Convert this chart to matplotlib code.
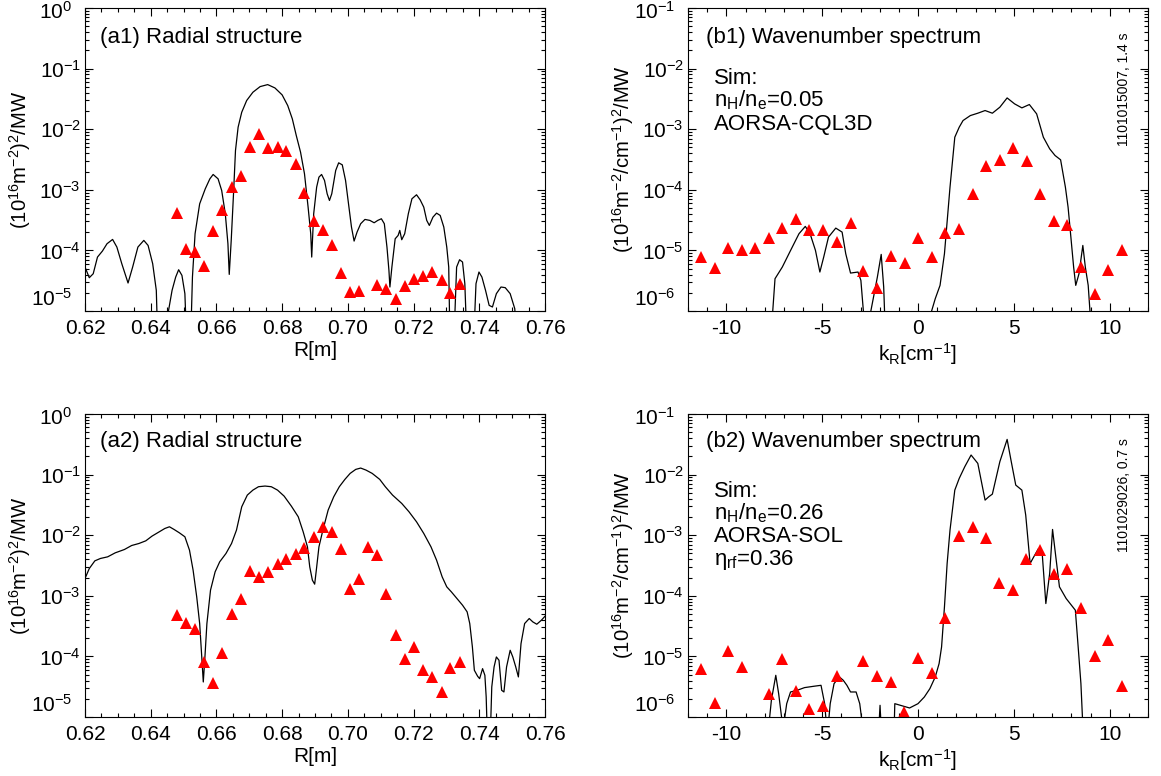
import numpy as np
import matplotlib
matplotlib.use("Agg")
import matplotlib.pyplot as plt
from matplotlib.ticker import MultipleLocator, FormatStrFormatter, LogLocator, FuncFormatter
from matplotlib.transforms import ScaledTranslation

plt.rcParams['font.family'] = ['Liberation Sans', 'DejaVu Sans']
plt.rcParams['mathtext.fontset'] = 'custom'
plt.rcParams['mathtext.rm'] = 'Liberation Sans'
plt.rcParams['mathtext.it'] = 'Liberation Sans:italic'
plt.rcParams['mathtext.default'] = 'regular'
plt.rcParams['axes.unicode_minus'] = False

# ---------------- measured points (red triangles) ----------------
a1_tri_R = [0.6480, 0.6508, 0.6535, 0.6563, 0.6590, 0.6618, 0.6646, 0.6674, 0.6702, 0.6730,
            0.6758, 0.6786, 0.6813, 0.6841, 0.6868, 0.6896, 0.6924, 0.6951, 0.6979, 0.7007,
            0.7035, 0.7088, 0.7116, 0.7145, 0.7173, 0.7201, 0.7228, 0.7257, 0.7285, 0.7311, 0.7341]
a1_tri_val = [4.1e-4, 1.05e-4, 9.4e-5, 5.5e-5, 2.06e-4, 4.7e-4, 1.1e-3, 1.72e-3, 5.05e-3, 8.4e-3,
              4.86e-3, 5.05e-3, 4.34e-3, 2.7e-3, 8.8e-4, 3.05e-4, 2.14e-4, 1.24e-4, 4.2e-5, 2.06e-5,
              2.14e-5, 2.65e-5, 2.33e-5, 1.56e-5, 2.58e-5, 3.33e-5, 3.78e-5, 4.4e-5, 3.3e-5, 2.0e-5, 2.75e-5]

a2_tri_R = [0.6480, 0.6508, 0.6535, 0.6563, 0.6590, 0.6618, 0.6646, 0.6674, 0.6702, 0.6730,
            0.6758, 0.6786, 0.6813, 0.6841, 0.6868, 0.6896, 0.6924, 0.6951, 0.6979, 0.7007,
            0.7035, 0.7061, 0.7089, 0.7117, 0.7145, 0.7173, 0.7201, 0.7229, 0.7257, 0.7285,
            0.7311, 0.7341]
a2_tri_val = [4.8e-4, 3.5e-4, 2.8e-4, 8.1e-5, 3.6e-5, 1.14e-4, 5.1e-4, 8.9e-4, 2.58e-3, 2.06e-3,
              2.45e-3, 3.41e-3, 4.07e-3, 4.86e-3, 6.04e-3, 9.4e-3, 1.38e-2, 1.14e-2, 5.9e-3, 1.29e-3,
              1.86e-3, 6.4e-3, 4.7e-3, 1.06e-3, 2.23e-4, 8.9e-5, 1.43e-4, 6.0e-5, 4.6e-5, 2.6e-5,
              6.5e-5, 8.1e-5]

b1_tri_k = [-11.31, -10.60, -9.90, -9.19, -8.50, -7.79, -7.08, -6.37, -5.69, -4.98, -4.25, -3.52,
            -2.85, -2.12, -1.40, -0.69, 0.0, 0.71, 1.42, 2.12, 2.85, 3.54, 4.27, 4.98, 5.67, 6.38,
            7.10, 7.79, 8.50, 9.21, 9.90, 10.62]
b1_tri_val = [7.8e-6, 5.1e-6, 1.09e-5, 1.0e-5, 1.09e-5, 1.62e-5, 2.37e-5, 3.24e-5, 2.14e-5, 2.14e-5,
              1.37e-5, 2.82e-5, 4.6e-6, 2.4e-6, 8.0e-6, 6.2e-6, 1.62e-5, 7.8e-6, 1.93e-5, 2.28e-5,
              8.4e-5, 2.45e-4, 3.16e-4, 4.86e-4, 2.97e-4, 8.4e-5, 3.1e-5, 2.58e-5, 5.3e-6, 1.93e-6,
              4.7e-6, 1.03e-5]

b2_tri_k = [-11.31, -10.60, -9.90, -9.19, -7.79, -7.08, -6.37, -5.67, -4.98, -4.25, -2.85, -2.12,
            -1.40, -0.73, 0.0, 0.71, 1.42, 2.12, 2.85, 3.54, 4.23, 4.94, 5.65, 6.38, 7.10, 7.79,
            8.50, 9.21, 9.90, 10.62]
b2_tri_val = [6.3e-6, 1.7e-6, 1.22e-5, 6.7e-6, 2.43e-6, 9.2e-6, 2.69e-6, 1.37e-6, 1.5e-6, 4.7e-6,
              8.4e-6, 4.8e-6, 3.8e-6, 1.21e-6, 9.4e-6, 5.4e-6, 4.3e-5, 9.7e-4, 1.38e-3, 9.1e-4,
              1.6e-4, 1.24e-4, 4.1e-4, 5.7e-4, 2.33e-4, 2.8e-4, 6.2e-5, 1.02e-5, 1.9e-5, 3.2e-6]

# ---------------- simulation curves (log10 of value) ----------------
a1_sim_R = [0.6200, 0.6213, 0.6225, 0.6238, 0.6253, 0.6267, 0.6284, 0.6297, 0.6312, 0.6331,
            0.6345, 0.6361, 0.6379, 0.6392, 0.6406, 0.6417, 0.6422, 0.6445, 0.6454, 0.6465,
            0.6476, 0.6485, 0.6495, 0.6504, 0.6510, 0.6521, 0.6527, 0.6535, 0.6549, 0.6566,
            0.6580, 0.6590, 0.6605, 0.6616, 0.6627, 0.6635, 0.6639, 0.6645, 0.6652, 0.6658,
            0.6666, 0.6677, 0.6692, 0.6711, 0.6733, 0.6756, 0.6778, 0.6800, 0.6817, 0.6831,
            0.6843, 0.6856, 0.6868, 0.6879, 0.6887, 0.6890, 0.6896, 0.6905, 0.6912, 0.6920,
            0.6929, 0.6937, 0.6944, 0.6951, 0.6963, 0.6972, 0.6983, 0.6993, 0.7002, 0.7011,
            0.7019, 0.7028, 0.7039, 0.7052, 0.7067, 0.7080, 0.7091, 0.7102, 0.7111, 0.7119,
            0.7125, 0.7128, 0.7134, 0.7144, 0.7153, 0.7158, 0.7164, 0.7173, 0.7184, 0.7195,
            0.7209, 0.7220, 0.7231, 0.7240, 0.7248, 0.7259, 0.7270, 0.7281, 0.7292, 0.7301,
            0.7307, 0.7311, 0.7322, 0.7331, 0.7340, 0.7349, 0.7356, 0.7363, 0.7382, 0.7390,
            0.7399, 0.7408, 0.7419, 0.7430, 0.7440, 0.7452, 0.7466, 0.7479, 0.7494, 0.7508,
            0.7516, 0.7600]
a1_sim_log = [-4.275, -4.451, -4.385, -4.110, -4.011, -3.890, -3.819, -3.945, -4.220, -4.538,
              -4.275, -3.945, -3.835, -3.918, -4.220, -4.659, -5.6, -5.6, -5.0, -4.659,
              -4.440, -4.319, -4.412, -4.714, -5.6, -5.6, -4.440, -3.725, -3.231, -2.984,
              -2.819, -2.747, -2.819, -3.011, -3.396, -3.890, -4.396, -3.835, -3.066, -2.352,
              -1.967, -1.720, -1.527, -1.390, -1.297, -1.264, -1.319, -1.434, -1.610, -1.830,
              -2.104, -2.379, -2.736, -3.286, -3.725, -4.110, -3.396, -2.956, -2.791, -2.747,
              -2.846, -3.066, -3.176, -3.066, -2.681, -2.555, -2.588, -2.846, -3.231, -3.615,
              -3.846, -3.698, -3.560, -3.489, -3.505, -3.544, -3.505, -3.478, -3.560, -3.945,
              -4.330, -4.604, -4.275, -3.808, -3.753, -3.670, -3.824, -3.725, -3.396, -3.148,
              -3.082, -3.165, -3.286, -3.505, -3.588, -3.451, -3.385, -3.423, -3.615, -3.945,
              -4.275, -5.6, -5.6, -4.275, -4.154, -4.192, -4.549, -5.6, -5.6, -4.549,
              -4.357, -4.440, -4.659, -4.907, -4.934, -4.714, -4.604, -4.615, -4.714, -4.962,
              -5.6, -5.6]

a2_sim_R = [0.6200, 0.6213, 0.6230, 0.6247, 0.6269, 0.6292, 0.6320, 0.6342, 0.6364, 0.6385,
            0.6404, 0.6426, 0.6443, 0.6457, 0.6471, 0.6487, 0.6504, 0.6518, 0.6529, 0.6540,
            0.6549, 0.6556, 0.6560, 0.6565, 0.6571, 0.6582, 0.6596, 0.6610, 0.6629, 0.6646,
            0.6661, 0.6677, 0.6694, 0.6711, 0.6728, 0.6748, 0.6767, 0.6786, 0.6806, 0.6828,
            0.6849, 0.6864, 0.6877, 0.6884, 0.6892, 0.6899, 0.6904, 0.6912, 0.6924, 0.6940,
            0.6957, 0.6974, 0.6991, 0.7007, 0.7024, 0.7039, 0.7055, 0.7074, 0.7097, 0.7114,
            0.7136, 0.7164, 0.7186, 0.7209, 0.7231, 0.7253, 0.7270, 0.7287, 0.7301, 0.7315,
            0.7332, 0.7349, 0.7363, 0.7371, 0.7379, 0.7385, 0.7395, 0.7401, 0.7410, 0.7417,
            0.7421, 0.7426, 0.7432, 0.7438, 0.7445, 0.7452, 0.7460, 0.7468, 0.7475, 0.7483,
            0.7494, 0.7502, 0.7511, 0.7519, 0.7527, 0.7538, 0.7552, 0.7563, 0.7575, 0.7589,
            0.7600]
a2_sim_log = [-2.715, -2.550, -2.423, -2.384, -2.357, -2.291, -2.236, -2.170, -2.137, -2.093,
              -2.015, -1.944, -1.889, -1.861, -1.905, -1.960, -2.026, -2.247, -2.577, -3.018,
              -3.458, -4.064, -4.422, -4.009, -3.458, -2.907, -2.605, -2.439, -2.302, -2.137,
              -1.916, -1.531, -1.338, -1.256, -1.200, -1.189, -1.200, -1.256, -1.355, -1.520,
              -1.696, -1.944, -2.192, -2.522, -2.742, -2.808, -2.577, -2.192, -1.916, -1.586,
              -1.366, -1.200, -1.079, -0.980, -0.914, -0.892, -0.925, -0.980, -1.079, -1.200,
              -1.338, -1.476, -1.613, -1.779, -1.971, -2.192, -2.412, -2.687, -2.852, -2.935,
              -3.045, -3.155, -3.265, -3.458, -3.844, -4.229, -4.328, -4.367, -4.202, -4.312,
              -4.670, -5.6, -5.6, -4.504, -4.174, -4.009, -4.064, -4.559, -4.587, -4.174,
              -3.899, -4.009, -4.174, -4.339, -3.789, -3.458, -3.375, -3.431, -3.469, -3.403,
              -3.337]

b1_sim_k = [-7.69, -7.46, -7.08, -6.69, -6.21, -5.88, -5.63, -5.35, -5.12, -4.92, -4.67, -4.29,
            -3.96, -3.77, -3.52, -3.13, -2.98, -2.85, -2.66, -2.46, -2.12, -1.92, -1.79, -1.69,
            0.50, 0.71, 0.90, 1.15, 1.38, 1.67, 1.92, 2.15, 2.35, 2.73, 3.12, 3.50, 3.88, 4.27,
            4.65, 5.04, 5.42, 5.81, 6.19, 6.54, 6.87, 7.15, 7.44, 7.69, 7.83, 7.96, 8.12, 8.23,
            8.40, 8.60, 8.73, 8.88, 9.08]
b1_sim_log = [-6.5, -5.467, -5.275, -5.027, -4.725, -4.604, -4.725, -5.0, -5.357, -5.110, -4.780,
              -4.632, -4.698, -5.055, -5.374, -5.357, -5.495, -6.0, -6.5, -6.0, -5.440, -5.066,
              -5.604, -6.5, -6.5, -6.0, -5.797, -5.577, -5.055, -3.956, -3.132, -2.967, -2.857,
              -2.775, -2.736, -2.692, -2.736, -2.637, -2.484, -2.582, -2.648, -2.593, -2.747,
              -3.132, -3.324, -3.434, -3.505, -3.956, -4.286, -4.725, -5.275, -5.577, -5.385,
              -4.918, -5.275, -5.577, -6.5]

b2_sim_k = [-7.90, -7.65, -7.42, -7.27, -7.04, -6.85, -6.65, -6.31, -5.92, -5.44, -5.06, -4.87,
            -4.73, -4.58, -4.38, -4.10, -3.90, -3.71, -3.52, -3.23, -3.04, -2.75, -2.10, -1.98,
            -1.88, -1.27, -1.21, -0.92, -0.44, 0.0, 0.33, 0.62, 0.90, 1.10, 1.23, 1.38, 1.52,
            1.67, 1.92, 2.15, 2.44, 2.77, 3.12, 3.50, 3.69, 3.88, 4.27, 4.65, 4.85, 5.10, 5.42,
            5.62, 5.85, 6.04, 6.29, 6.48, 6.67, 6.87, 7.02, 7.19, 7.38, 7.73, 8.21, 8.35, 8.50,
            8.65]
b2_sim_log = [-6.5, -5.725, -5.312, -5.615, -6.2, -5.780, -5.587, -5.560, -5.515, -5.493, -5.477,
              -5.780, -6.3, -5.780, -5.449, -5.339, -5.394, -5.477, -5.587, -5.587, -5.780, -6.5,
              -6.5, -5.807, -6.5, -6.5, -5.780, -5.807, -5.851, -5.780, -5.670, -5.532, -5.339,
              -5.119, -4.844, -4.183, -3.467, -2.916, -2.256, -2.063, -1.870, -1.677, -1.815,
              -2.421, -2.366, -2.322, -1.787, -1.419, -1.760, -2.173, -2.256, -2.668, -3.467,
              -3.357, -3.219, -3.302, -4.128, -3.632, -2.905, -3.357, -3.852, -4.045, -4.238,
              -4.816, -5.449, -6.5]

FS_TICK = 15
FS_TEXT = 16
FS_LAB = 14.6
ylab_a = r'(10$^{16}$m$^{-2}$)$^{2}$/MW'
ylab_b = r'(10$^{16}$m$^{-2}$/cm$^{-1}$)$^{2}$/MW'

fig = plt.figure(figsize=(11.61, 7.76), dpi=100)
W, H = 1161.0, 776.0


def make_axes(x0, x1, y_top, y_bot):
    return fig.add_axes([x0 / W, 1 - y_bot / H, (x1 - x0) / W, (y_bot - y_top) / H])


def decade_label(lo_exp, hi_exp):
    # the end decades are written separately, nudged inside like the original
    def fmt(v, pos):
        e = int(round(np.log10(v)))
        if e in (lo_exp, hi_exp):
            return ''
        return r'$\mathdefault{10^{%d}}$' % e
    return FuncFormatter(fmt)


def style(ax, radial):
    ax.set_yscale('log')
    ax.yaxis.set_minor_locator(LogLocator(base=10, subs=np.arange(2, 10), numticks=100))
    if radial:
        lo, hi = -5, 0
        ax.set_xlim(0.62, 0.76)
        ax.xaxis.set_major_locator(MultipleLocator(0.02))
        ax.xaxis.set_minor_locator(MultipleLocator(0.005))
        ax.xaxis.set_major_formatter(FormatStrFormatter('%.2f'))
        ax.set_xlabel('R[m]', fontsize=FS_TICK, labelpad=2)
        ax.set_ylabel(ylab_a, fontsize=FS_LAB)
    else:
        lo, hi = -6, -1
        ax.set_xlim(-12, 12)
        ax.xaxis.set_major_locator(MultipleLocator(5))
        ax.xaxis.set_minor_locator(MultipleLocator(1))
        ax.xaxis.set_major_formatter(FormatStrFormatter('%d'))
        ax.set_xlabel(r'k$_{R}$[cm$^{-1}$]', fontsize=FS_TICK, labelpad=2)
        ax.set_ylabel(ylab_b, fontsize=FS_LAB)
    ax.set_ylim(10.0 ** lo, 10.0 ** hi)
    ax.yaxis.set_major_formatter(decade_label(lo, hi))
    ax.yaxis.set_label_coords(-0.113, 0.5)
    ax.tick_params(which='both', direction='in', top=True, right=True, width=0.8,
                   labelsize=FS_TICK)
    ax.tick_params(which='major', length=6)
    ax.tick_params(axis='x', which='major', pad=6)
    ax.tick_params(axis='y', which='major', pad=3)
    ax.tick_params(which='minor', length=3)
    for s in ax.spines.values():
        s.set_linewidth(0.8)
    # end decade labels, shifted inward
    dx = -9 / 72.0
    ax.text(0, 0, r'$\mathdefault{10^{%d}}$' % lo, fontsize=FS_TICK, ha='right', va='bottom',
            transform=ax.transAxes + ScaledTranslation(dx, 1 / 72.0, fig.dpi_scale_trans))
    ax.text(0, 1, r'$\mathdefault{10^{%d}}$' % hi, fontsize=FS_TICK, ha='right', va='top',
            transform=ax.transAxes + ScaledTranslation(dx, 5 / 72.0, fig.dpi_scale_trans))


ax_a1 = make_axes(85, 545, 8, 311)
ax_b1 = make_axes(688, 1148, 8, 311)
ax_a2 = make_axes(85, 545, 414, 717)
ax_b2 = make_axes(688, 1148, 414, 717)

line_kw = dict(color='black', lw=0.9)
tri_kw = dict(linestyle='none', marker='^', color='red', markersize=8, markeredgewidth=0)

ax_a1.plot(a1_sim_R, 10 ** np.array(a1_sim_log), **line_kw)
ax_a1.plot(a1_tri_R, a1_tri_val, **tri_kw)
ax_a2.plot(a2_sim_R, 10 ** np.array(a2_sim_log), **line_kw)
ax_a2.plot(a2_tri_R, a2_tri_val, **tri_kw)
ax_b1.plot(b1_sim_k, 10 ** np.array(b1_sim_log), **line_kw)
ax_b1.plot(b1_tri_k, b1_tri_val, **tri_kw)
ax_b2.plot(b2_sim_k, 10 ** np.array(b2_sim_log), **line_kw)
ax_b2.plot(b2_tri_k, b2_tri_val, **tri_kw)

for ax in (ax_a1, ax_a2):
    style(ax, True)
for ax in (ax_b1, ax_b2):
    style(ax, False)

ax_a1.text(0.033, 0.903, '(a1) Radial structure', transform=ax_a1.transAxes, va='center', fontsize=FS_TEXT)
ax_a2.text(0.033, 0.909, '(a2) Radial structure', transform=ax_a2.transAxes, va='center', fontsize=FS_TEXT)
ax_b1.text(0.040, 0.903, '(b1) Wavenumber spectrum', transform=ax_b1.transAxes, va='center', fontsize=FS_TEXT)
ax_b2.text(0.040, 0.909, '(b2) Wavenumber spectrum', transform=ax_b2.transAxes, va='center', fontsize=FS_TEXT)

b1_notes = ['Sim:', r'n$_{H}$/n$_{e}$=0.05', 'AORSA-CQL3D']
b1_note_y = [0.749, 0.675, 0.598]
for s, y in zip(b1_notes, b1_note_y):
    ax_b1.text(0.056, y, s, transform=ax_b1.transAxes, va='baseline', fontsize=FS_TEXT)

b2_notes = ['Sim:', r'n$_{H}$/n$_{e}$=0.26', 'AORSA-SOL', r'η$_{rf}$=0.36']
b2_note_y = [0.727, 0.652, 0.578, 0.501]
for s, y in zip(b2_notes, b2_note_y):
    ax_b2.text(0.056, y, s, transform=ax_b2.transAxes, va='baseline', fontsize=FS_TEXT)

ax_b1.text(0.948, 0.92, '1101015007, 1.4 s', transform=ax_b1.transAxes, rotation=90,
           ha='center', va='top', fontsize=10)
ax_b2.text(0.948, 0.92, '1101029026, 0.7 s', transform=ax_b2.transAxes, rotation=90,
           ha='center', va='top', fontsize=10)

fig.savefig('out.png', dpi=100)
